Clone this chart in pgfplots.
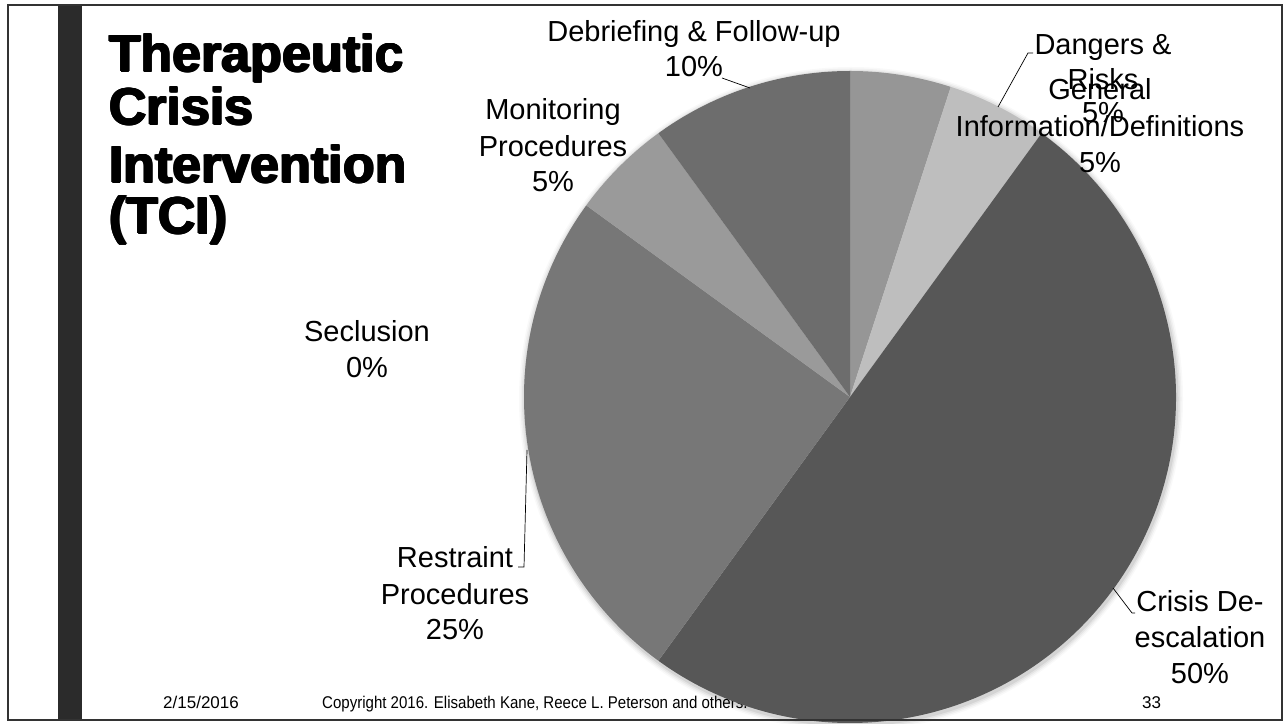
\documentclass[border=0pt]{standalone}
\usepackage{pgfplots}
\pgfplotsset{compat=1.18}
\usepackage{fontspec}
\setmainfont{Liberation Sans}
\definecolor{cGen}{HTML}{969696}
\definecolor{cDan}{HTML}{BEBEBE}
\definecolor{cCri}{HTML}{575757}
\definecolor{cRes}{HTML}{777777}
\definecolor{cSec}{HTML}{8A8A8A}
\definecolor{cMon}{HTML}{9A9A9A}
\definecolor{cDeb}{HTML}{6D6D6D}
\definecolor{frame}{HTML}{333333}
\definecolor{bar}{HTML}{2B2B2B}
\newcommand\heavy[3]{%
  \foreach \dx/\dy in {-0.9/0,0.9/0,0/0.6,0/-0.6,-0.6/0.5,0.6/-0.5,0/0}{%
    \node[anchor=base west, inner sep=0pt] at (#1+\dx,#2+\dy) {\bfseries\fontsize{52}{54}\selectfont #3};}}
\begin{document}
\begin{tikzpicture}[x=1pt,y=1pt]
\path[use as bounding box] (0,0) rectangle (1285,723);
% vertical bar
\fill[bar] (58,3) rectangle (82,718);
% title
\heavy{109}{651}{Therapeutic}
\heavy{109}{598}{Crisis}
\heavy{109}{540}{Intervention}
\heavy{109}{489}{(TCI)}
% footer text (behind the pie)
\node[anchor=base west, inner sep=0pt] at (163,15) {\fontsize{17}{20}\selectfont 2/15/2016};
\node[anchor=base west, inner sep=0pt, xscale=0.885] at (322,15) {\fontsize{17}{20}\selectfont Copyright 2016. Elisabeth Kane, Reece L. Peterson and others.};
\node[anchor=base west, inner sep=0pt] at (1142,15) {\fontsize{17}{20}\selectfont 33};
\begin{axis}[at={(850pt,326pt)}, anchor=center, width=652pt, height=652pt,
  scale only axis, xmin=-1, xmax=1, ymin=-1, ymax=1, hide axis, clip=false]
\pgfplotsextra{
  % soft shadow / glow
  \foreach \k/\o in {6/0.025,4.5/0.035,3/0.05,1.5/0.07}{
    \fill[black, opacity=\o] (axis cs:0,0) ++(1pt,-2pt) circle[radius=326pt+\k pt];
  }
  \xdef\cum{0}
  \foreach \v/\c in {5/cGen,5/cDan,50/cCri,25/cRes,0/cSec,5/cMon,10/cDeb}{
    \pgfmathsetmacro\a{90-3.6*\cum}
    \pgfmathsetmacro\b{90-3.6*(\cum+\v)}
    \fill[\c] (axis cs:0,0) -- ++(\a:326pt) arc[start angle=\a, end angle=\b, radius=326pt] -- cycle;
    \pgfmathsetmacro\n{\cum+\v}
    \xdef\cum{\n}
  }
}
\end{axis}
% slide frame
\draw[frame, line width=2pt] (8,3) rectangle (1282,718);
% labels
\tikzset{lab/.style={anchor=base, inner sep=0pt, font=\fontsize{29}{36}\selectfont}}
\node[lab] at (694,681) {Debriefing \& Follow-up};
\node[lab] at (694,646) {10\%};
\node[lab] at (553,603) {Monitoring};
\node[lab] at (553,566) {Procedures};
\node[lab] at (553,531) {5\%};
\node[lab] at (367,381) {Seclusion};
\node[lab] at (367,345) {0\%};
\node[lab] at (455,155) {Restraint};
\node[lab] at (455,118) {Procedures};
\node[lab] at (455,83) {25\%};
\node[lab] at (1200,111) {Crisis De-};
\node[lab] at (1200,75) {escalation};
\node[lab] at (1200,40) {50\%};
\node[lab] at (1103,668) {Dangers \&};
\node[lab] at (1103,633) {Risks};
\node[lab] at (1103,600) {5\%};
\node[lab] at (1100,623) {General};
\node[lab] at (1100,586) {Information/Definitions};
\node[lab] at (1100,550) {5\%};
% leader lines
\draw[black, line width=0.7pt] (722,645) -- (750,635);
\draw[black, line width=0.7pt] (998,616) -- (1028,670) -- (1033,670);
\draw[black, line width=0.7pt] (518,156) -- (524,156) -- (527,273);
\draw[black, line width=0.7pt] (1113,135) -- (1132,110) -- (1135,110);
\end{tikzpicture}
\end{document}
